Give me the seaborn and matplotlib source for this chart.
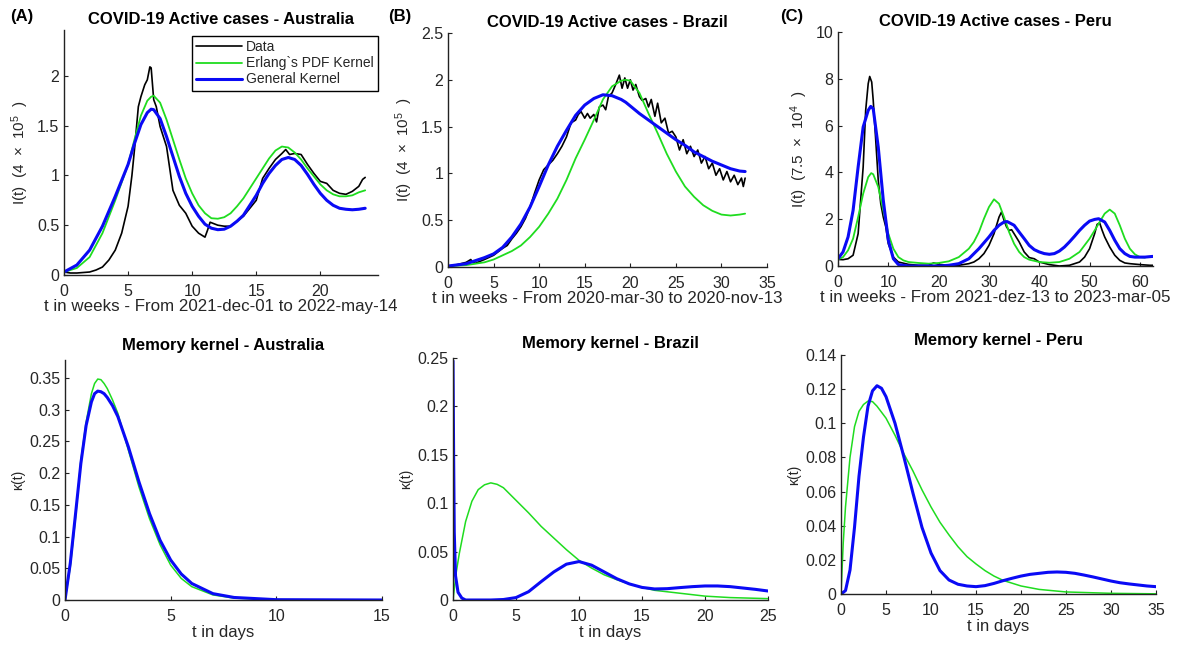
import numpy as np
import pandas as pd
import matplotlib
matplotlib.use("Agg")
import matplotlib.pyplot as plt
import seaborn as sns
from matplotlib.ticker import FuncFormatter

# ---------------- Panel A (Australia) : active cases ----------------
a_data_t = [0, 0.5, 1, 2, 2.5, 3, 3.5, 4, 4.5, 5, 5.3, 5.5, 5.8, 6, 6.3, 6.5, 6.7, 6.8, 7, 7.2, 7.5, 8,
            8.5, 9, 9.5, 10, 10.5, 11, 11.2, 11.4, 12, 12.5, 13, 13.5, 14, 14.5, 15, 15.5, 16, 16.5, 17,
            17.3, 17.6, 18, 18.5, 19, 19.5, 20, 20.5, 21, 21.5, 22, 22.5, 23, 23.3, 23.5]
a_data_v = [0.03, 0.02, 0.02, 0.03, 0.05, 0.08, 0.15, 0.25, 0.42, 0.69, 1.0, 1.26, 1.69, 1.79, 1.91, 1.96,
            2.09, 2.08, 1.76, 1.69, 1.49, 1.29, 0.85, 0.70, 0.62, 0.49, 0.42, 0.38, 0.45, 0.53, 0.50, 0.49,
            0.49, 0.54, 0.59, 0.67, 0.75, 0.97, 1.07, 1.16, 1.22, 1.26, 1.21, 1.22, 1.21, 1.11, 1.02, 0.94,
            0.92, 0.85, 0.82, 0.81, 0.84, 0.89, 0.96, 0.98]
a_fit_t = [0, 1, 2, 3, 4, 5, 5.5, 6, 6.5, 6.8, 7, 7.5, 8, 8.5, 9, 9.5, 10, 10.5, 11, 11.5, 12, 12.5, 13,
           13.5, 14, 14.5, 15, 15.5, 16, 16.5, 17, 17.5, 18, 18.5, 19, 19.5, 20, 20.5, 21, 21.5, 22,
           22.5, 23, 23.5]
a_erlang_v = [0.03, 0.07, 0.18, 0.42, 0.75, 1.11, 1.36, 1.60, 1.75, 1.79, 1.80, 1.73, 1.56, 1.36, 1.16, 0.97,
              0.82, 0.70, 0.62, 0.57, 0.565, 0.58, 0.62, 0.69, 0.77, 0.87, 0.97, 1.07, 1.17, 1.25, 1.29,
              1.28, 1.23, 1.16, 1.07, 0.99, 0.91, 0.85, 0.81, 0.79, 0.79, 0.80, 0.83, 0.85]
a_general_v = [0.03, 0.10, 0.25, 0.49, 0.79, 1.11, 1.32, 1.51, 1.63, 1.665, 1.66, 1.57, 1.39, 1.19, 0.99, 0.82,
               0.69, 0.59, 0.51, 0.47, 0.455, 0.46, 0.49, 0.54, 0.60, 0.70, 0.80, 0.92, 1.02, 1.10, 1.16,
               1.18, 1.16, 1.10, 1.01, 0.91, 0.82, 0.75, 0.70, 0.67, 0.66, 0.655, 0.66, 0.67]

# ---------------- Panel B (Brazil) : active cases ----------------
b_data_t = [0, 1, 2, 2.5, 2.7, 3, 4, 5, 6, 6.5, 7, 7.5, 8, 8.5, 9, 9.5, 10, 10.5, 11, 11.5, 12, 12.5,
            13, 13.5, 14, 14.3, 14.6, 15, 15.3, 15.6, 16, 16.3, 16.6, 17, 17.3, 17.6, 18, 18.4, 18.8,
            19.1, 19.4, 19.7, 20, 20.3, 20.6, 21, 21.3, 21.7, 22, 22.3, 22.7, 23, 23.4, 23.8, 24.2,
            24.6, 25, 25.4, 25.8, 26.2, 26.6, 27, 27.4, 27.8, 28.2, 28.6, 29, 29.4, 29.8, 30.2, 30.6,
            31, 31.4, 31.8, 32.2, 32.4, 32.6]
b_data_v = [0.01, 0.025, 0.05, 0.08, 0.05, 0.04, 0.08, 0.125, 0.20, 0.23, 0.30, 0.36, 0.43, 0.52, 0.64,
            0.79, 0.93, 1.04, 1.09, 1.14, 1.21, 1.29, 1.39, 1.54, 1.57, 1.63, 1.66, 1.59, 1.64, 1.59,
            1.63, 1.55, 1.71, 1.73, 1.68, 1.82, 1.86, 1.95, 2.05, 1.91, 2.02, 1.91, 2.00, 1.89, 1.95,
            1.82, 1.78, 1.80, 1.71, 1.79, 1.61, 1.75, 1.54, 1.59, 1.43, 1.45, 1.39, 1.25, 1.36, 1.21,
            1.29, 1.18, 1.25, 1.11, 1.18, 1.05, 1.11, 0.98, 1.05, 0.93, 1.02, 0.91, 0.98, 0.88, 0.95,
            0.86, 0.95]
b_fit_t = [0, 2, 4, 5, 6, 7, 8, 9, 10, 11, 12, 13, 14, 15, 16, 17, 18, 19, 19.5, 20, 21, 22, 23, 24,
           25, 26, 27, 28, 29, 30, 31, 32, 32.6]
b_erlang_v = [0.01, 0.02, 0.05, 0.08, 0.125, 0.17, 0.23, 0.32, 0.43, 0.57, 0.73, 0.93, 1.16, 1.36, 1.57,
              1.79, 1.93, 1.99, 2.0, 1.99, 1.86, 1.64, 1.43, 1.21, 1.02, 0.86, 0.75, 0.66, 0.60, 0.56,
              0.55, 0.56, 0.57]
b_general_v = [0.01, 0.035, 0.10, 0.14, 0.21, 0.32, 0.46, 0.64, 0.86, 1.09, 1.29, 1.46, 1.62, 1.73, 1.80,
               1.84, 1.83, 1.79, 1.76, 1.72, 1.64, 1.57, 1.50, 1.43, 1.36, 1.30, 1.23, 1.18, 1.13, 1.09,
               1.05, 1.025, 1.02]

# ---------------- Panel C (Peru) : active cases ----------------
c_data_t = [0, 1, 2, 3, 4, 5, 5.5, 6, 6.3, 6.7, 7, 7.5, 8, 8.5, 9, 9.5, 10, 11, 12, 14, 16, 18, 19, 20,
            22, 24, 26, 27, 28, 29, 30, 31, 32, 32.5, 33, 33.5, 34, 34.5, 35, 36, 37, 38, 39, 40, 42,
            44, 46, 48, 49, 50, 51, 51.5, 52, 52.5, 53, 54, 55, 56, 57, 58, 60, 62, 62.6]
c_data_v = [0.28, 0.27, 0.31, 0.46, 1.38, 4.23, 6.65, 7.79, 8.1, 7.86, 7.08, 5.37, 3.66, 2.66, 2.09, 1.67,
            0.95, 0.38, 0.17, 0.07, 0.03, 0.03, 0.13, 0.07, 0.03, 0.03, 0.10, 0.17, 0.31, 0.53, 0.88,
            1.38, 2.09, 2.31, 1.95, 1.67, 1.52, 1.55, 1.38, 1.03, 0.60, 0.36, 0.31, 0.17, 0.06, 0.0,
            0.03, 0.17, 0.38, 0.74, 1.38, 1.78, 1.84, 1.52, 1.24, 0.81, 0.46, 0.24, 0.13, 0.10, 0.06,
            0.03, 0.03]
c_erlang_t = [0, 1, 2, 3, 4, 5, 6, 6.6, 7, 8, 9, 10, 11, 12, 13, 14, 16, 18, 20, 22, 24, 26, 27, 28, 29,
              30, 31, 32, 33, 34, 35, 36, 37, 38, 40, 42, 44, 46, 48, 50, 51, 52, 53, 54, 55, 56, 57,
              58, 59, 60, 61]
c_erlang_v = [0.28, 0.38, 0.67, 1.17, 2.09, 3.09, 3.80, 3.97, 3.92, 3.38, 2.38, 1.38, 0.74, 0.38, 0.24,
              0.17, 0.13, 0.10, 0.13, 0.20, 0.38, 0.74, 1.03, 1.45, 2.02, 2.52, 2.85, 2.66, 2.09, 1.45,
              0.95, 0.60, 0.38, 0.27, 0.17, 0.14, 0.17, 0.31, 0.60, 1.17, 1.52, 1.88, 2.24, 2.41, 2.24,
              1.74, 1.17, 0.74, 0.50, 0.38, 0.36]
c_general_t = [0, 1, 2, 3, 4, 5, 6, 6.5, 7, 8, 9, 10, 11, 12, 14, 20, 22, 24, 26, 28, 30, 31, 32, 33,
               33.6, 35, 36, 37, 38, 39, 40, 41, 42, 43, 44, 45, 46, 47, 48, 49, 50, 51, 51.8, 53, 54,
               55, 56, 57, 58, 59, 60, 61, 62, 62.6]
c_general_v = [0.31, 0.60, 1.24, 2.38, 4.23, 5.94, 6.65, 6.82, 6.72, 5.08, 2.81, 1.10, 0.31, 0.06, 0.0,
               0.0, 0.03, 0.10, 0.31, 0.74, 1.24, 1.52, 1.74, 1.88, 1.90, 1.74, 1.45, 1.17, 0.88, 0.70,
               0.60, 0.53, 0.50, 0.53, 0.64, 0.81, 1.03, 1.27, 1.52, 1.74, 1.92, 1.99, 2.02, 1.88, 1.52,
               1.10, 0.74, 0.53, 0.41, 0.38, 0.38, 0.38, 0.40, 0.41]

# ---------------- Memory kernels ----------------
ka_t = [0, 0.25, 0.5, 0.75, 1, 1.25, 1.4, 1.55, 1.7, 1.85, 2, 2.25, 2.5, 3, 3.5, 4, 4.5, 5, 5.5, 6, 7,
        8, 10, 15]
ka_erlang = [0, 0.052, 0.13, 0.22, 0.28, 0.325, 0.341, 0.348, 0.347, 0.341, 0.333, 0.315, 0.294, 0.236,
             0.178, 0.128, 0.087, 0.055, 0.034, 0.021, 0.008, 0.003, 0.0005, 0.0]
ka_general = [0, 0.058, 0.136, 0.215, 0.275, 0.312, 0.325, 0.329, 0.328, 0.325, 0.319, 0.306, 0.289,
              0.241, 0.186, 0.136, 0.094, 0.063, 0.041, 0.026, 0.010, 0.004, 0.0005, 0.0]

kb_erlang_t = [0, 0.25, 0.5, 1, 1.5, 2, 2.5, 3, 3.5, 4, 5, 6, 7, 8, 9, 10, 11, 12, 13, 14, 15, 16, 18, 20,
               22, 25]
kb_erlang = [0, 0.028, 0.048, 0.081, 0.102, 0.114, 0.119, 0.121, 0.1195, 0.116, 0.103, 0.090, 0.076,
             0.064, 0.052, 0.041, 0.033, 0.026, 0.021, 0.0165, 0.013, 0.010, 0.007, 0.004, 0.0025, 0.0014]
kb_general_t = [0, 0.05, 0.1, 0.2, 0.4, 0.7, 1, 3, 4, 5, 6, 7, 8, 9, 10, 11, 12, 13, 14, 15, 16, 17, 18,
                19, 20, 21, 22, 23, 24, 25]
kb_general = [0.247, 0.15, 0.07, 0.025, 0.008, 0.002, 0.0, 0.0, 0.0005, 0.0025, 0.0086, 0.019, 0.029,
              0.037, 0.0397, 0.036, 0.029, 0.022, 0.0166, 0.013, 0.0114, 0.0117, 0.0128, 0.0138, 0.0145,
              0.0145, 0.0138, 0.0124, 0.011, 0.0093]

kc_erlang_t = [0, 0.25, 0.5, 1, 1.5, 2, 2.5, 3, 3.5, 4, 5, 6, 7, 8, 9, 10, 11, 12, 13, 14, 15, 16, 17, 18,
               20, 22, 25, 30, 35]
kc_erlang = [0, 0.03, 0.051, 0.080, 0.098, 0.107, 0.111, 0.113, 0.1127, 0.110, 0.103, 0.093, 0.082,
             0.072, 0.061, 0.051, 0.042, 0.0346, 0.0277, 0.0219, 0.0176, 0.0137, 0.0105, 0.008, 0.0047,
             0.0027, 0.0012, 0.0004, 0.0001]
kc_general_t = [0, 0.5, 1, 1.5, 2, 2.5, 3, 3.5, 4, 4.5, 5, 6, 7, 8, 9, 10, 11, 12, 13, 14, 15, 16, 17,
                18, 19, 20, 21, 22, 23, 24, 25, 26, 27, 28, 29, 30, 31, 32, 33, 34, 35]
kc_general = [0, 0.002, 0.014, 0.039, 0.069, 0.092, 0.110, 0.119, 0.122, 0.1205, 0.1156, 0.100, 0.080,
              0.059, 0.039, 0.024, 0.0137, 0.0082, 0.0057, 0.0047, 0.0043, 0.0049, 0.0062, 0.0078,
              0.0092, 0.0105, 0.0115, 0.0121, 0.0127, 0.0129, 0.0127, 0.0121, 0.0111, 0.0100, 0.0088,
              0.0076, 0.0066, 0.0059, 0.0053, 0.0047, 0.0043]

titles_top = ["COVID-19 Active cases - Australia", "COVID-19 Active cases - Brazil",
              "COVID-19 Active cases - Peru"]
titles_bot = ["Memory kernel - Australia", "Memory kernel - Brazil", "Memory kernel - Peru"]
xlabels_top = ["t in weeks - From 2021-dec-01 to 2022-may-14",
               "t in weeks - From 2020-mar-30 to 2020-nov-13",
               "t in weeks - From 2021-dez-13 to 2023-mar-05"]
ylabels_top = [r"I(t)  (4  $\times$  10$^{5}$  )", r"I(t)  (4  $\times$  10$^{5}$  )",
               r"I(t)  (7.5  $\times$  10$^{4}$  )"]
panel_tags = ["(A)", "(B)", "(C)"]
legend_labels = ["Data", "Erlang`s PDF Kernel", "General Kernel"]

# ---------------- Style ----------------
sns.set_theme(style="ticks")
plt.rcParams['font.family'] = ['Liberation Sans', 'DejaVu Sans']
plt.rcParams['mathtext.fontset'] = 'custom'
plt.rcParams['mathtext.rm'] = 'Liberation Sans'
plt.rcParams['mathtext.it'] = 'Liberation Sans:italic'
plt.rcParams['mathtext.default'] = 'regular'

C_DATA = "#000000"
C_ERL = "#1fdc1f"
C_GEN = "#0a0af5"
TXT = "#262626"

fig = plt.figure(figsize=(11.8, 6.46), dpi=100)

W, H = 1180.0, 646.0
def rect(l, r, t, b):
    return [l / W, (H - b) / H, (r - l) / W, (b - t) / H]

top_rects = [rect(64, 378, 30, 275), rect(448, 767, 33, 267), rect(838, 1153, 32, 266)]
bot_rects = [rect(65, 382, 360, 600), rect(453, 768, 358, 600), rect(841, 1156, 355, 594)]

fmt = FuncFormatter(lambda v, p: ("%g" % round(v, 6)))

def style_ax(ax):
    sns.despine(ax=ax)
    for s in ["left", "bottom"]:
        ax.spines[s].set_color("#222222")
        ax.spines[s].set_linewidth(1.0)
    ax.tick_params(direction="in", length=3, width=0.8, colors="#222222",
                   labelcolor=TXT, labelsize=11.5)
    ax.tick_params(axis="x", pad=6.5)
    ax.tick_params(axis="y", pad=3.5)
    ax.xaxis.set_major_formatter(fmt)
    ax.yaxis.set_major_formatter(fmt)

def line(ax, x, y, color, lw):
    df = pd.DataFrame({"t": x, "v": y})
    sns.lineplot(data=df, x="t", y="v", ax=ax, color=color, lw=lw,
                 estimator=None, sort=False, legend=False)

top_series = [
    (a_data_t, a_data_v, a_fit_t, a_erlang_v, a_fit_t, a_general_v),
    (b_data_t, b_data_v, b_fit_t, b_erlang_v, b_fit_t, b_general_v),
    (c_data_t, c_data_v, c_erlang_t, c_erlang_v, c_general_t, c_general_v),
]
top_xlim = [(0, 24.5), (0, 35), (0, 62.6)]
top_ylim = [(0, 2.46), (0, 2.5), (0, 10)]
top_xticks = [np.arange(0, 21, 5), np.arange(0, 36, 5), np.arange(0, 61, 10)]
top_yticks = [np.arange(0, 2.01, 0.5), np.arange(0, 2.51, 0.5), np.arange(0, 10.1, 2)]

for i in range(3):
    ax = fig.add_axes(top_rects[i])
    dt, dv, et, ev, gt, gv = top_series[i]
    line(ax, dt, dv, C_DATA, 1.2)
    line(ax, et, ev, C_ERL, 1.3)
    line(ax, gt, gv, C_GEN, 2.2)
    ax.set_xlim(*top_xlim[i])
    ax.set_ylim(*top_ylim[i])
    ax.set_xticks(top_xticks[i])
    ax.set_yticks(top_yticks[i])
    style_ax(ax)
    ax.set_title(titles_top[i], fontsize=12, fontweight="bold", color="black", pad=4)
    ax.set_xlabel(xlabels_top[i], fontsize=12.2, color=TXT, labelpad=0)
    ax.set_ylabel(ylabels_top[i], fontsize=11, color=TXT, labelpad=4)
    if i == 0:
        leg = ax.legend(ax.get_lines(), legend_labels, loc="upper right",
                        bbox_to_anchor=(1.0, 0.975), borderaxespad=0, fontsize=10,
                        frameon=True, fancybox=False, framealpha=1, edgecolor="black",
                        handlelength=3.3, handletextpad=0.3, labelspacing=0.15,
                        borderpad=0.3)
        leg.get_frame().set_linewidth(1.0)

bot_series = [
    (ka_t, ka_erlang, ka_t, ka_general),
    (kb_erlang_t, kb_erlang, kb_general_t, kb_general),
    (kc_erlang_t, kc_erlang, kc_general_t, kc_general),
]
bot_xlim = [(0, 15), (0, 25), (0, 35)]
bot_ylim = [(0, 0.378), (0, 0.25), (0, 0.14)]
bot_xticks = [np.arange(0, 16, 5), np.arange(0, 26, 5), np.arange(0, 36, 5)]
bot_yticks = [np.arange(0, 0.351, 0.05), np.arange(0, 0.251, 0.05), np.arange(0, 0.141, 0.02)]

for i in range(3):
    ax = fig.add_axes(bot_rects[i])
    et, ev, gt, gv = bot_series[i]
    line(ax, et, ev, C_ERL, 1.1)
    line(ax, gt, gv, C_GEN, 2.2)
    ax.set_xlim(*bot_xlim[i])
    ax.set_ylim(*bot_ylim[i])
    ax.set_xticks(bot_xticks[i])
    ax.set_yticks(bot_yticks[i])
    style_ax(ax)
    ax.set_title(titles_bot[i], fontsize=12, fontweight="bold", color="black", pad=7)
    ax.set_xlabel("t in days", fontsize=12, color=TXT, labelpad=1)
    ax.set_ylabel("κ(t)", fontsize=10, color=TXT, labelpad=3)

tag_x = [10, 388, 780]
for i in range(3):
    fig.text(tag_x[i] / W, 1 - 16 / H, panel_tags[i], fontsize=12, fontweight="bold",
             color="black", va="center", ha="left")

fig.savefig("out.png", dpi=100, facecolor="white")
